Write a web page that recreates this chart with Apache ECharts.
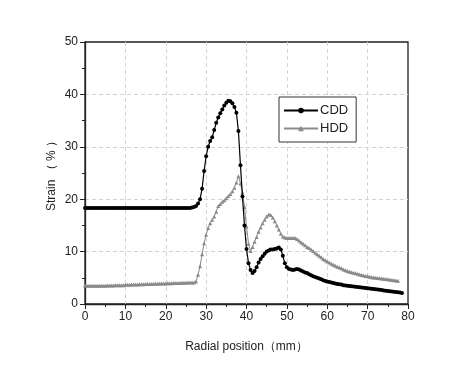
<!DOCTYPE html>
<html>
<head>
<meta charset="utf-8">
<script src="https://cdn.jsdelivr.net/npm/echarts@6/dist/echarts.min.js"></script>
<style>
html,body{margin:0;padding:0;background:#fff;}
#chart{width:474px;height:365px;}
</style>
</head>
<body>
<div id="chart"></div>
<script>
// Sampling: radial position starts at 0 mm, one reading every 0.5 mm
const xStart = 0;
const xStep = 0.5;

// CDD strain (%) readings, x = 0 .. 78.5 mm
const cddValues = [
  18.3,18.3,18.3,18.3,18.3,18.3,18.3,18.3,18.3,18.3,   // 0-4.5
  18.3,18.3,18.3,18.3,18.3,18.3,18.3,18.3,18.3,18.3,   // 5-9.5
  18.3,18.3,18.3,18.3,18.3,18.3,18.3,18.3,18.3,18.3,   // 10-14.5
  18.3,18.3,18.3,18.3,18.3,18.3,18.3,18.3,18.3,18.3,   // 15-19.5
  18.3,18.3,18.3,18.3,18.3,18.3,18.3,18.3,18.3,18.3,   // 20-24.5
  18.3,18.3,18.3,18.4,18.5,18.7,19.2,20.0,22.0,25.4,   // 25-29.5
  28.2,30.0,31.1,31.8,33.2,34.6,35.6,36.4,37.1,37.9,   // 30-34.5
  38.4,38.8,38.7,38.3,37.6,36.5,33.0,26.5,20.5,15.0,   // 35-39.5
  10.5,7.8,6.5,5.9,6.3,7.0,7.9,8.6,9.1,9.6,            // 40-44.5
  10.0,10.2,10.4,10.4,10.5,10.6,10.8,10.4,9.2,7.8,     // 45-49.5
  7.0,6.7,6.6,6.5,6.6,6.7,6.6,6.4,6.2,6.0,             // 50-54.5
  5.9,5.7,5.5,5.3,5.15,5.0,4.85,4.7,4.55,4.4,          // 55-59.5
  4.3,4.2,4.1,4.0,3.9,3.8,3.75,3.7,3.6,3.55,           // 60-64.5
  3.5,3.45,3.4,3.35,3.3,3.25,3.2,3.15,3.1,3.05,        // 65-69.5
  3.0,2.95,2.9,2.85,2.8,2.75,2.7,2.65,2.6,2.55,        // 70-74.5
  2.5,2.45,2.4,2.35,2.3,2.25,2.2,2.1                   // 75-78.5
];

// HDD strain (%) readings, x = 0 .. 77.5 mm
const hddValues = [
  3.6,3.5,3.5,3.5,3.5,3.5,3.5,3.5,3.5,3.5,             // 0-4.5
  3.5,3.55,3.55,3.55,3.55,3.6,3.6,3.6,3.6,3.6,         // 5-9.5
  3.65,3.65,3.65,3.7,3.7,3.7,3.7,3.75,3.75,3.75,       // 10-14.5
  3.8,3.8,3.8,3.8,3.85,3.85,3.85,3.9,3.9,3.9,          // 15-19.5
  3.9,3.95,3.95,3.95,4.0,4.0,4.0,4.0,4.05,4.05,        // 20-24.5
  4.05,4.1,4.1,4.1,4.1,4.3,5.6,7.2,9.5,11.6,           // 25-29.5
  13.2,14.5,15.4,16.1,16.7,17.6,18.7,19.1,19.5,19.8,   // 30-34.5
  20.2,20.6,21.0,21.5,22.2,23.2,24.4,23.0,21.3,18.5,   // 35-39.5
  14.8,11.5,10.1,10.9,11.9,12.8,13.8,14.6,15.4,16.1,   // 40-44.5
  16.7,17.1,17.0,16.5,15.8,15.0,14.2,13.4,12.9,12.7,   // 45-49.5
  12.6,12.6,12.6,12.6,12.6,12.4,12.1,11.8,11.5,11.2,   // 50-54.5
  10.9,10.7,10.4,10.1,9.8,9.5,9.2,8.9,8.6,8.35,        // 55-59.5
  8.1,7.9,7.7,7.5,7.3,7.1,6.95,6.8,6.6,6.45,           // 60-64.5
  6.3,6.15,6.05,5.95,5.85,5.75,5.65,5.55,5.45,5.35,    // 65-69.5
  5.3,5.2,5.1,5.05,5.0,4.95,4.9,4.85,4.8,4.75,         // 70-74.5
  4.7,4.65,4.6,4.55,4.5,4.45                           // 75-77.5
];

const seriesNames = ['CDD', 'HDD'];
const xTicks = [0, 10, 20, 30, 40, 50, 60, 70, 80];
const yTicks = [0, 10, 20, 30, 40, 50];
const xAxisName = 'Radial position（mm）';
const yAxisName = 'Strain （ % ）';

function toPairs(vals) {
  return vals.map((v, i) => [xStart + i * xStep, v]);
}

const FONT = 'Liberation Sans, Arial, sans-serif';
const chart = echarts.init(document.getElementById('chart'), null, {renderer: 'canvas'});

const axisCommon = {
  axisLine: {show: true, onZero: false, lineStyle: {color: '#222', width: 1.3}},
  axisTick: {show: true, inside: false, length: 5, lineStyle: {color: '#222', width: 1}},
  minorTick: {show: true, splitNumber: 2, length: 3, lineStyle: {color: '#222', width: 1}},
  splitLine: {show: true, showMinLine: false, showMaxLine: false, lineStyle: {color: '#d4d4d4', type: [4, 3], width: 1}},
  axisLabel: {color: '#222', fontFamily: FONT, fontSize: 12}
};

chart.setOption({
  animation: false,
  backgroundColor: '#fff',
  grid: {left: 85, right: 66, top: 42, bottom: 61, show: true, borderColor: '#222', borderWidth: 1.3, backgroundColor: 'transparent'},
  legend: {
    data: seriesNames,
    orient: 'vertical',
    left: 279, top: 97,
    padding: [7, 8, 7, 4],
    itemGap: 5,
    itemWidth: 34, itemHeight: 7,
    backgroundColor: '#fff',
    borderColor: '#333', borderWidth: 1,
    textStyle: {fontFamily: FONT, fontSize: 13, color: '#222', padding: [0, 0, 0, -3]}
  },
  xAxis: Object.assign({}, axisCommon, {
    type: 'value', min: xTicks[0], max: xTicks[xTicks.length - 1], interval: 10,
    name: xAxisName, nameLocation: 'middle', nameGap: 37, nameMoveOverlap: false,
    nameTextStyle: {fontFamily: FONT, fontSize: 12, color: '#222'},
    axisLabel: Object.assign({}, axisCommon.axisLabel, {margin: 7})
  }),
  yAxis: Object.assign({}, axisCommon, {
    type: 'value', min: yTicks[0], max: yTicks[yTicks.length - 1], interval: 10,
    name: yAxisName, nameLocation: 'middle', nameGap: 27, nameMoveOverlap: false,
    nameTextStyle: {fontFamily: FONT, fontSize: 12, color: '#222'},
    axisLabel: Object.assign({}, axisCommon.axisLabel, {margin: 7})
  }),
  series: [
    {
      name: seriesNames[0], type: 'line', data: toPairs(cddValues),
      symbol: 'circle', symbolSize: 4, showAllSymbol: true,
      lineStyle: {color: '#000', width: 1.2},
      itemStyle: {color: '#000'},
      z: 3
    },
    {
      name: seriesNames[1], type: 'line', data: toPairs(hddValues),
      symbol: 'triangle', symbolSize: 4, showAllSymbol: true,
      lineStyle: {color: '#8a8a8a', width: 1},
      itemStyle: {color: '#8a8a8a'},
      z: 2
    }
  ]
});
</script>
</body>
</html>
